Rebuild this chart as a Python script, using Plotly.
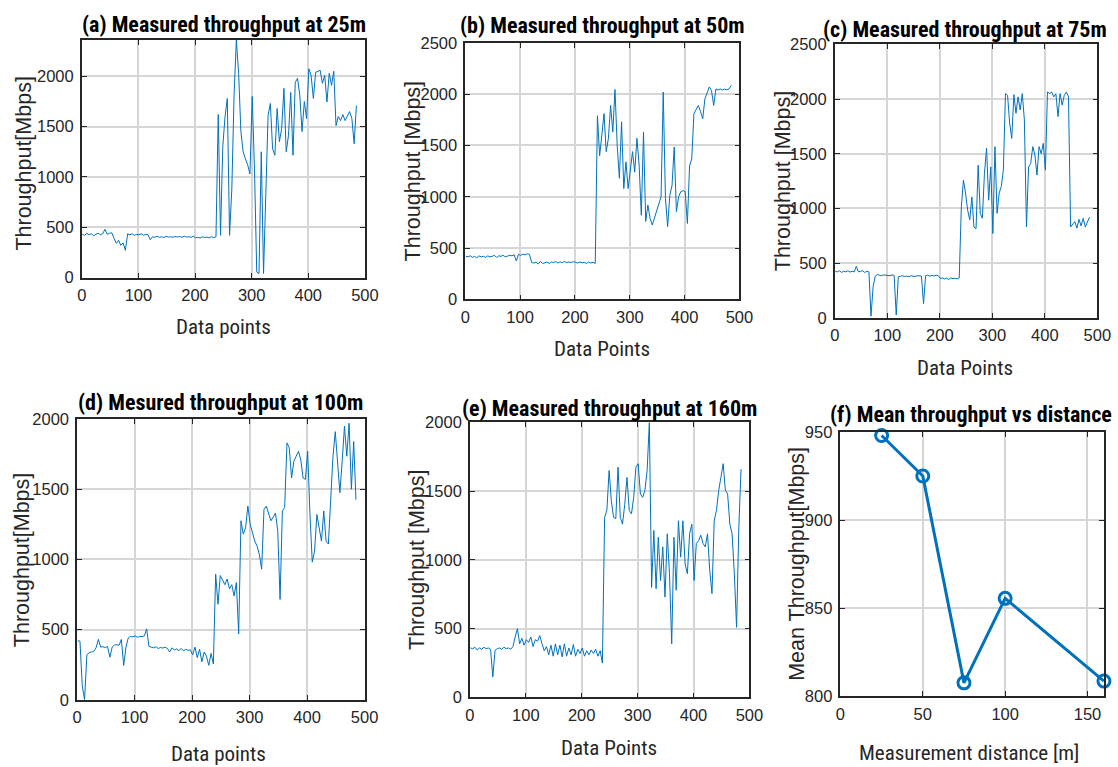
import plotly.graph_objects as go

# ---------------- data (x index = 1 + 4*i) ----------------
thr_25m = [
    430, 420, 440, 425, 435, 415, 430, 440, 425, 435,
    480, 430, 440, 445, 390, 340, 370, 320, 345, 270,
    435, 425, 435, 420, 430, 425, 435, 420, 430, 425,
    375, 405, 400, 410, 400, 405, 398, 410, 402, 406,
    400, 410, 402, 408, 400, 412, 402, 406, 400, 410,
    395, 400, 392, 405, 398, 402, 395, 405, 398, 405,
    1620, 420, 1300, 1600, 1780, 420, 880, 1820, 2360, 2030,
    1450, 1250, 1180, 1120, 1030, 1800, 1080, 55, 40, 1250,
    40, 900, 1610, 1730, 1280, 1215, 1680, 1350, 1480, 1880,
    1250, 1410, 1840, 1215, 1940, 1980, 1810, 1450, 1750, 1580,
    2075, 2010, 1780, 2040, 2050, 2060, 1930, 2010, 1745, 2030,
    1910, 2050, 1510, 1600, 1560, 1620, 1560, 1600, 1650, 1580,
    1330, 1710,
]
thr_50m = [
    420, 415, 425, 410, 420, 405, 425, 415, 420, 410,
    425, 415, 420, 430, 410, 425, 420, 430, 415, 425,
    430, 425, 435, 375, 440, 430, 440, 435, 445, 440,
    360, 355, 365, 345, 370, 350, 360, 365, 350, 365,
    360, 370, 355, 365, 360, 370, 358, 365, 360, 368,
    362, 355, 365, 358, 360, 350, 365, 355, 362, 350,
    1790, 1400, 1600, 1810, 1440, 1570, 1890, 1630, 2045, 1500,
    1180, 1730, 1080, 1340, 1080, 1240, 1440, 1240, 1570, 1310,
    820, 1630, 760, 920, 790, 725, 790, 870, 920, 1000,
    2020, 985, 710, 1015, 1110, 1485, 855, 1000, 1050, 1060,
    1050, 740, 1300, 1370, 1810, 1850, 1890, 1830, 1760, 1955,
    2020, 2070, 2035, 1890, 2050, 2040, 2050, 2040, 2048, 2042,
    2050, 2085,
]
thr_75m = [
    425, 420, 430, 415, 425, 420, 430, 418, 425, 420,
    470, 420, 425, 430, 415, 425, 420, 15, 285, 380,
    395, 390, 385, 392, 388, 390, 385, 392, 388, 25,
    375, 380, 385, 378, 382, 375, 385, 380, 378, 385,
    380, 382, 130, 385, 390, 380, 388, 382, 390, 385,
    360, 365, 355, 362, 350, 365, 358, 362, 355, 365,
    1015, 1260, 1140, 985, 895, 1105, 830, 815, 1395, 955,
    910, 1320, 1550, 1075, 1380, 770, 1565, 955, 1140, 1200,
    1350, 2050, 2035, 1780, 1640, 2040, 1870, 2020, 1900, 2050,
    1810, 830, 1380, 1410, 1565, 1490, 1305, 1565, 1500, 1595,
    1350, 2065, 2050, 2065, 2020, 2050, 1840, 2050, 1945, 2035,
    2065, 2020, 830, 860, 880, 820, 900, 840, 910, 830,
    880, 920,
]
thr_100m = [
    420, 418, 100, 0, 320, 335, 340, 345, 370, 430,
    375, 378, 372, 380, 303, 375, 390, 392, 388, 430,
    245, 375, 440, 450, 448, 455, 445, 452, 450, 455,
    505, 380, 375, 370, 378, 365, 372, 368, 375, 365,
    340, 370, 355, 362, 350, 365, 348, 360, 352, 355,
    320, 375, 300, 360, 270, 340, 310, 245, 330, 255,
    895, 680, 885, 850, 820, 860, 790, 820, 740, 835,
    470, 1275, 1180, 1225, 1380, 1250, 1180, 1130, 1095, 1035,
    930, 1355, 1380, 1320, 1275, 1300, 1330, 1200, 715, 1345,
    1370, 1830, 1795, 1580, 1700, 1735, 1770, 1710, 1580, 1570,
    1770, 1320, 980, 1060, 1320, 1225, 1130, 1345, 1130, 1110,
    1390, 1735, 1910, 1675, 1475, 1700, 1950, 1735, 1970, 1500,
    1840, 1425,
]
thr_160m = [
    360, 355, 365, 345, 360, 350, 365, 355, 360, 350,
    150, 343, 355, 360, 350, 365, 355, 360, 350, 370,
    440, 500, 390, 430, 380, 420, 400, 440, 370, 420,
    410, 450, 390, 340, 370, 310, 380, 300, 390, 310,
    380, 295, 390, 300, 360, 310, 385, 300, 350, 320,
    360, 300, 340, 310, 345, 320, 350, 300, 340, 250,
    1310, 1360, 1650, 1430, 1310, 1300, 1675, 1310, 1260, 1405,
    1600, 1360, 1335, 1455, 1675, 1700, 1480, 1455, 1505, 1650,
    2000, 800, 1215, 790, 1165, 850, 1095, 730, 1190, 900,
    390, 1165, 780, 1285, 1020, 1285, 970, 900, 1190, 1260,
    850, 1120, 1140, 1180, 1120, 1095, 1190, 925, 755, 1285,
    1360, 1505, 1600, 1700, 1505, 1480, 1260, 1190, 900, 510,
    1235, 1660,
]
distance_m = [25, 50, 75, 100, 160]
mean_thr = [948, 925, 807.5, 855.5, 808.5]

titles = ["(a) Measured throughput at 25m", "(b) Measured throughput at 50m",
          "(c) Measured throughput at 75m", "(d) Mesured throughput at 100m",
          "(e) Measured throughput at 160m", "(f) Mean throughput vs distance"]
xlabels = ["Data points", "Data Points", "Data Points", "Data points",
           "Data Points", "Measurement distance [m]"]
ylabels = ["Throughput[Mbps]", "Throughput [Mbps]", "Throughput [Mbps]",
           "Throughput[Mbps]", "Throughput [Mbps]", "Mean Throughput[Mbps]"]

# ---------------- layout geometry (target screen pixels) ----------------
W, H = 1118, 767


def fx(px):  # screen px -> figure px (compensates page margin / fit scaling)
    return (px - 5) / 0.986


def fy(py):
    return (py - 7.8) / 0.98


boxes = [  # left, right, top, bottom
    (82, 366, 39, 277.3),
    (466.7, 741.7, 41.7, 299.3),
    (837.3, 1100.7, 43.3, 317.7),
    (77.3, 365.7, 419.3, 701),
    (471.3, 751.7, 422.7, 698.7),
    (843, 1107.3, 432.3, 697.3),
]
yranges = [(0, 2360), (0, 2500), (0, 2500), (0, 2000), (0, 2000), (800, 950)]
ytickvals = [[0, 500, 1000, 1500, 2000], [0, 500, 1000, 1500, 2000, 2500],
             [0, 500, 1000, 1500, 2000, 2500], [0, 500, 1000, 1500, 2000],
             [0, 500, 1000, 1500, 2000], [800, 850, 900, 950]]
title_pos = [(225, 23), (604, 24), (968, 28), (221, 403), (611, 409), (974, 415)]
xlab_pos = [(224, 327), (604, 349), (968, 368), (219, 755), (611, 749), (972, 754)]
ylab_pos = [(24, 162), (414, 171), (785, 181), (22, 560), (418, 561), (800, 565)]

BLUE = "#0072BD"
COND = "Roboto Condensed, DejaVu Sans Condensed, sans-serif"
series = [thr_25m, thr_50m, thr_75m, thr_100m, thr_160m]

fig = go.Figure()
for k, ys in enumerate(series):
    xs = [1 + 4 * i for i in range(len(ys))]
    ax = "" if k == 0 else str(k + 1)
    fig.add_trace(go.Scatter(x=xs, y=ys, mode="lines",
                             line=dict(color=BLUE, width=1),
                             xaxis="x" + ax, yaxis="y" + ax, showlegend=False))
fig.add_trace(go.Scatter(x=distance_m, y=mean_thr, mode="lines+markers",
                         line=dict(color=BLUE, width=3),
                         marker=dict(symbol="circle-open", size=12,
                                     line=dict(color=BLUE, width=3)),
                         xaxis="x6", yaxis="y6", showlegend=False, cliponaxis=False))

TICKFONT = dict(family="Liberation Sans, Arial, sans-serif", size=16.5, color="#262626")
common = dict(showgrid=True, gridcolor="#d6d6d6", gridwidth=1.5, zeroline=False,
              showline=True, linecolor="#262626", linewidth=1.5, mirror="ticks",
              ticks="inside", ticklen=5, tickwidth=1.2, tickcolor="#262626",
              tickfont=TICKFONT)
layout = dict(width=W, height=H, margin=dict(l=0, r=0, t=0, b=0),
              paper_bgcolor="white", plot_bgcolor="white", showlegend=False)
annotations = []
for k in range(6):
    l, r, t, b = boxes[k]
    ax = "" if k == 0 else str(k + 1)
    xr = [0, 160] if k == 5 else [0, 500]
    xt = [0, 50, 100, 150] if k == 5 else [0, 100, 200, 300, 400, 500]
    layout["xaxis" + ax] = dict(common, domain=[fx(l) / W, fx(r) / W], range=xr,
                                tickvals=xt, anchor="y" + ax, ticklabelstandoff=2)
    layout["yaxis" + ax] = dict(common, domain=[1 - fy(b) / H, 1 - fy(t) / H],
                                range=list(yranges[k]), tickvals=ytickvals[k],
                                anchor="x" + ax, ticklabelstandoff=3)
    tx, ty = title_pos[k]
    annotations.append(dict(text="<b>" + titles[k] + "</b>", x=fx(tx) / W,
                            y=1 - fy(ty) / H, xref="paper", yref="paper",
                            xanchor="center", yanchor="middle", showarrow=False,
                            font=dict(family=COND, size=22, color="black")))
    lx, ly = xlab_pos[k]
    annotations.append(dict(text=xlabels[k], x=fx(lx) / W, y=1 - fy(ly) / H,
                            xref="paper", yref="paper", xanchor="center",
                            yanchor="middle", showarrow=False, borderpad=0,
                            font=dict(family=COND, size=21, color="#262626")))
    yx, yy = ylab_pos[k]
    annotations.append(dict(text=ylabels[k], x=fx(yx) / W, y=1 - fy(yy) / H,
                            textangle=-90, xref="paper", yref="paper",
                            xanchor="center", yanchor="middle", showarrow=False,
                            font=dict(family="Liberation Sans, Arial, sans-serif",
                                      size=21.5, color="#262626")))
layout["annotations"] = annotations
fig.update_layout(**layout)
fig.write_html("out.html")
